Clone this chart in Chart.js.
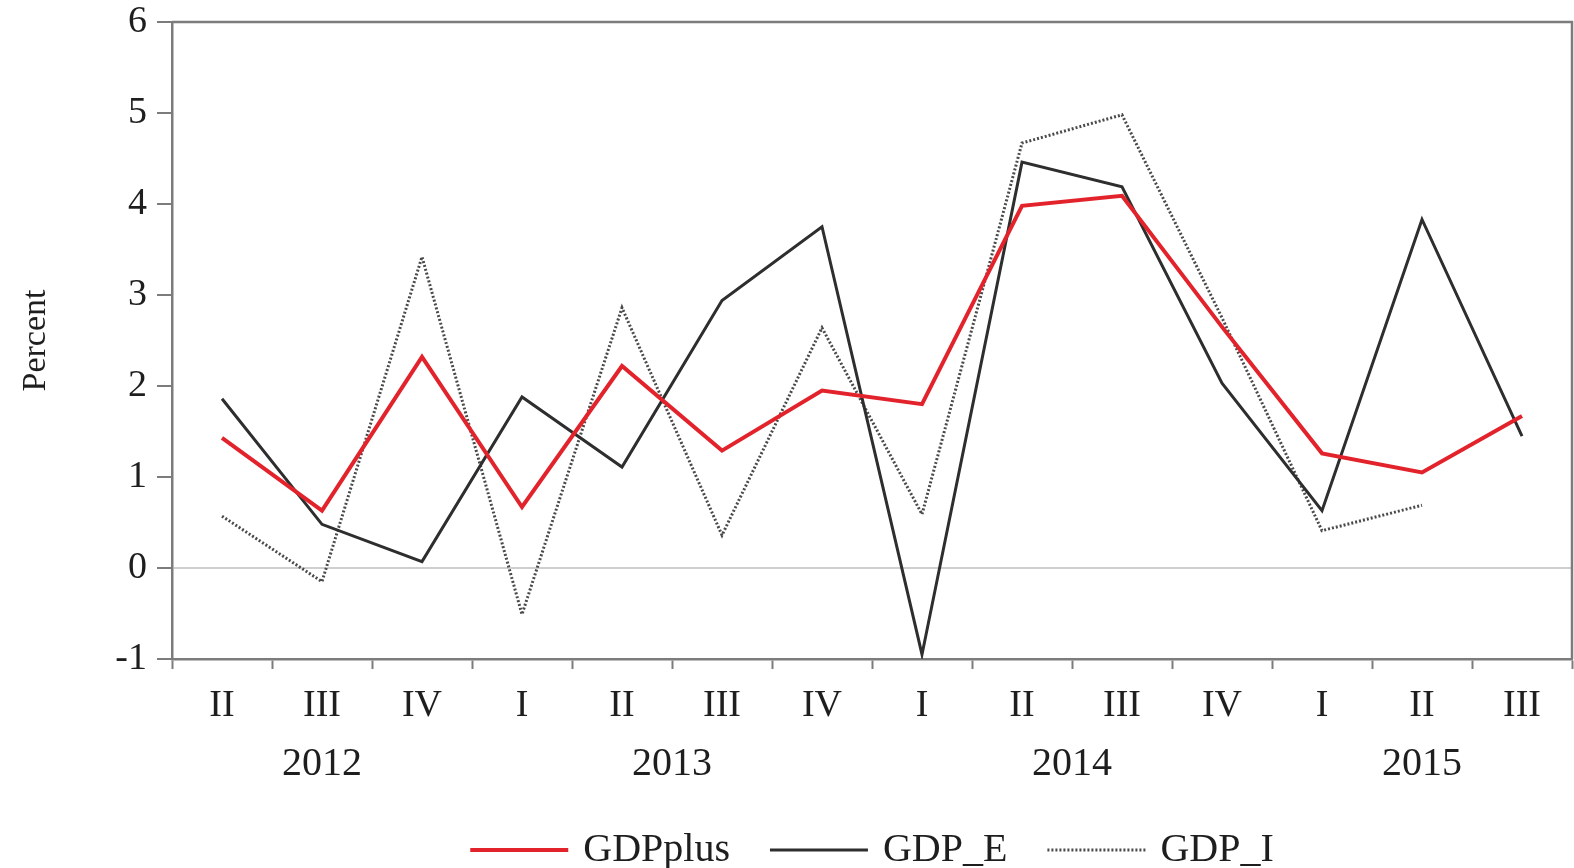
<!DOCTYPE html>
<html>
<head>
<meta charset="utf-8">
<script src="https://cdn.jsdelivr.net/npm/chart.js@4.4.1/dist/chart.umd.min.js"></script>
<style>
  html, body { margin: 0; padding: 0; background: #fff; }
  #wrap { width: 1574px; height: 868px; }
</style>
</head>
<body>
<div id="wrap"><canvas id="gdpChart"></canvas></div>
<script>
// quarters, 2012:II to 2015:III
const quarters = ["II", "III", "IV", "I", "II", "III", "IV", "I", "II", "III", "IV", "I", "II", "III"];
const yearLabels = ["2012", "2013", "2014", "2015"];
const yearFirst = [0, 3, 7, 11];
const yearLast = [2, 6, 10, 13];

// series, percent
const gdpPlus = [1.43, 0.63, 2.32, 0.67, 2.22, 1.29, 1.95, 1.80, 3.98, 4.09, 2.65, 1.26, 1.05, 1.67];
const gdpE = [1.86, 0.48, 0.07, 1.88, 1.11, 2.94, 3.75, -0.95, 4.46, 4.19, 2.03, 0.63, 3.83, 1.45];
const gdpI = [0.57, -0.15, 3.42, -0.51, 2.86, 0.36, 2.64, 0.59, 4.67, 4.98, 2.75, 0.41, 0.69, null];

const yTicks = [-1, 0, 1, 2, 3, 4, 5, 6];

const serif = "'Liberation Serif', 'Times New Roman', serif";
const axisGray = "#7c7c7c";
const textColor = "#1e1e1e";

// top and right sides of the frame
const framePlugin = {
  id: "frame",
  afterDraw(chart) {
    const { ctx, chartArea: a } = chart;
    ctx.save();
    ctx.strokeStyle = axisGray;
    ctx.lineWidth = 2.5;
    ctx.beginPath();
    ctx.moveTo(a.left, a.top);
    ctx.lineTo(a.right, a.top);
    ctx.lineTo(a.right, a.bottom);
    ctx.stroke();
    ctx.restore();
  },
};

// year labels under the quarter ticks
const yearPlugin = {
  id: "years",
  afterDraw(chart) {
    const { ctx } = chart;
    const xs = chart.scales.x;
    ctx.save();
    ctx.font = "40px " + serif;
    ctx.fillStyle = textColor;
    ctx.textAlign = "center";
    ctx.textBaseline = "middle";
    yearLabels.forEach((yr, i) => {
      const x = (xs.getPixelForValue(yearFirst[i]) + xs.getPixelForValue(yearLast[i])) / 2;
      ctx.fillText(yr, x, xs.top + 105);
    });
    ctx.restore();
  },
};

// legend row under the years, centred on the plot
const legendPlugin = {
  id: "legendRow",
  afterDraw(chart) {
    const { ctx, chartArea: a } = chart;
    const sampleLen = 98, textGap = 15, itemGap = 40;
    ctx.save();
    ctx.font = "40px " + serif;
    ctx.textBaseline = "middle";
    const sets = chart.data.datasets;
    const widths = sets.map((d) => sampleLen + textGap + ctx.measureText(d.label).width);
    const total = widths.reduce((s, w) => s + w, 0) + itemGap * (sets.length - 1);
    let x = (a.left + a.right) / 2 - total / 2;
    const y = chart.scales.x.top + 191;
    sets.forEach((d, i) => {
      ctx.strokeStyle = d.borderColor;
      ctx.lineWidth = d.borderWidth;
      ctx.setLineDash(d.borderDash || []);
      ctx.beginPath();
      ctx.moveTo(x, y);
      ctx.lineTo(x + sampleLen, y);
      ctx.stroke();
      ctx.setLineDash([]);
      ctx.fillStyle = textColor;
      ctx.fillText(d.label, x + sampleLen + textGap, y);
      x += widths[i] + itemGap;
    });
    ctx.restore();
  },
};

const chart = new Chart(document.getElementById("gdpChart"), {
  type: "line",
  data: {
    labels: quarters,
    datasets: [
      {
        label: "GDPplus",
        data: gdpPlus,
        borderColor: "#e3232b",
        borderWidth: 4,
        pointRadius: 0,
        tension: 0,
        order: 0,
      },
      {
        label: "GDP_E",
        data: gdpE,
        borderColor: "#2e2e2e",
        borderWidth: 3,
        pointRadius: 0,
        tension: 0,
        order: 1,
      },
      {
        label: "GDP_I",
        data: gdpI,
        borderColor: "#4a4a4a",
        borderWidth: 3,
        borderDash: [2, 2],
        pointRadius: 0,
        tension: 0,
        spanGaps: false,
        order: 2,
      },
    ],
  },
  options: {
    responsive: true,
    maintainAspectRatio: false,
    animation: false,
    layout: {
      padding: { top: 22, right: 2, left: 0, bottom: 0 },
    },
    scales: {
      x: {
        offset: true,
        grid: {
          offset: true,
          drawOnChartArea: false,
          tickLength: 10,
          tickColor: axisGray,
          tickWidth: 2,
        },
        border: { color: axisGray, width: 2.5 },
        ticks: {
          color: textColor,
          font: { family: serif, size: 38 },
          padding: 14,
          maxRotation: 0,
          autoSkip: false,
        },
        afterFit(scale) {
          scale.height = 209;
        },
      },
      y: {
        min: -1,
        max: 6,
        afterBuildTicks(scale) {
          scale.ticks = yTicks.map((v) => ({ value: v }));
        },
        grid: {
          color: (c) => (c.tick && c.tick.value === 0 ? "#cfcfcf" : "rgba(0,0,0,0)"),
          lineWidth: 2,
          tickColor: axisGray,
          tickLength: 15,
          tickWidth: 2,
        },
        border: { color: axisGray, width: 2.5 },
        ticks: {
          color: textColor,
          font: { family: serif, size: 38 },
          padding: 10,
        },
        title: {
          display: true,
          text: "Percent",
          color: textColor,
          font: { family: serif, size: 34 },
          padding: { top: 16, bottom: 0 },
        },
        afterFit(scale) {
          scale.width = 172;
          scale.paddingTop = 0;
        },
      },
    },
    plugins: {
      legend: { display: false },
      tooltip: { enabled: false },
    },
  },
  plugins: [framePlugin, yearPlugin, legendPlugin],
});
</script>
</body>
</html>
